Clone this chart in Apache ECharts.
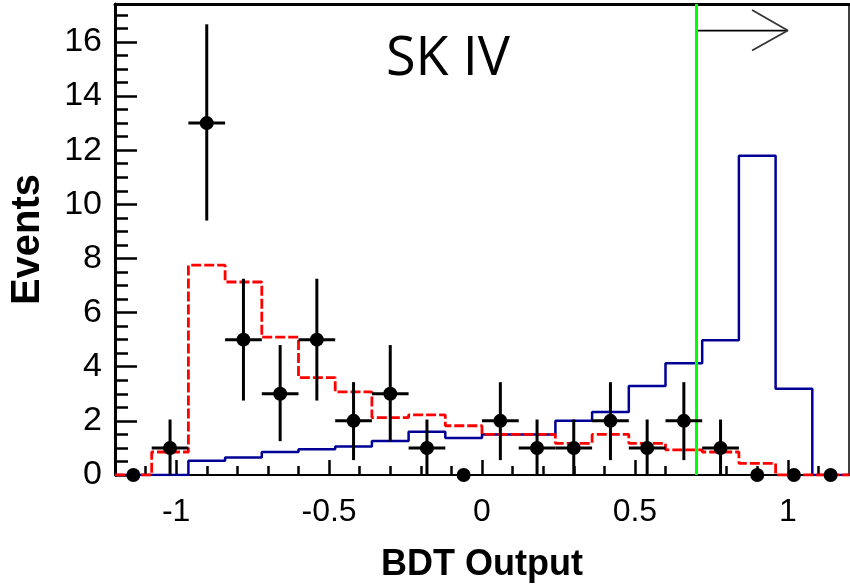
<!DOCTYPE html>
<html>
<head>
<meta charset="utf-8">
<script src="https://cdn.jsdelivr.net/npm/echarts@6/dist/echarts.min.js"></script>
<style>
html,body{margin:0;padding:0;background:#fff;}
#chart{width:850px;height:588px;}
</style>
</head>
<body>
<div id="chart"></div>
<script>
// ---- data ----
const binEdges = [-1.2,-1.08,-0.96,-0.84,-0.72,-0.6,-0.48,-0.36,-0.24,-0.12,0,0.12,0.24,0.36,0.48,0.6,0.72,0.84,0.96,1.08,1.2];
const dataCounts = [0,1,13,5,3,5,2,3,1,0,2,1,1,2,1,2,1,0,0,0];
const errLow  = [0,0,9.4,2.75,1.25,2.75,0.55,1.25,0,0,0.55,0,0,0.55,0,0.55,0,0,0,0];
const errHigh = [0,2.05,16.65,7.25,4.8,7.25,3.43,4.8,2.05,0,3.43,2.05,2.05,3.43,2.05,3.43,2.05,0,0,0];
const redHist  = [0,0.85,7.75,7.13,5.09,3.6,3.07,2.12,2.22,1.82,1.5,1.5,1.17,1.5,1.17,0.93,0.85,0.43,0,0];
const blueHist = [0,0,0.53,0.65,0.85,0.95,1.05,1.26,1.6,1.37,1.5,1.5,2.0,2.33,3.29,4.13,4.98,11.79,3.19,0];
const cutValue = 0.7;
const arrowShaft = [[0.7,16.42],[1.0,16.42]];
const arrowHead = [[0.883,17.18],[1.0,16.42],[0.883,15.68]];
const xTickLabels = [-1,-0.5,0,0.5,1];
const yTickLabels = [0,2,4,6,8,10,12,14,16];
const xMinorTicks = [-1.1,-0.9,-0.8,-0.7,-0.6,-0.4,-0.3,-0.2,-0.1,0.1,0.2,0.3,0.4,0.6,0.7,0.8,0.9,1.1];
const yMinorTicks = [0.5,1,1.5,2.5,3,3.5,4.5,5,5.5,6.5,7,7.5,8.5,9,9.5,10.5,11,11.5,12.5,13,13.5,14.5,15,15.5,16.5,17];

function histData(vals){
  const d = vals.map((v,i)=>[binEdges[i], v]);
  d.push([binEdges[binEdges.length-1], vals[vals.length-1]]);
  return d;
}
const pointData = dataCounts.map((v,i)=>{
  const c = (binEdges[i]+binEdges[i+1])/2;
  const hw = (binEdges[i+1]-binEdges[i])/2;
  return [c, v, errLow[i], errHigh[i], hw];
});

const XMIN=-1.2, XMAX=1.2, YMIN=0, YMAX=17.4;
const lab = {fontFamily:'Liberation Sans, Arial, sans-serif', color:'#000'};

const chart = echarts.init(document.getElementById('chart'), null, {renderer:'canvas'});
chart.setOption({
  animation:false,
  backgroundColor:'#fff',
  grid:{left:111, right:1, top:4, bottom:111, show:false},
  xAxis:[
    {type:'value', min:XMIN, max:XMAX, position:'bottom',
     name:'BDT Output', nameLocation:'middle', nameGap:72,
     nameTextStyle:Object.assign({fontSize:36, fontWeight:'bold'}, lab),
     axisLine:{show:true, onZero:false, lineStyle:{color:'#000', width:2}},
     axisTick:{show:true, inside:true, length:15, customValues:xTickLabels, lineStyle:{color:'#000', width:2.5}},
     axisLabel:{show:true, customValues:xTickLabels, margin:21, fontSize:32, fontFamily:lab.fontFamily, color:'#000',
       formatter:v=>String(v)},
     splitLine:{show:false}},
    {type:'value', min:XMIN, max:XMAX, position:'bottom',
     axisLine:{show:false, onZero:false},
     axisTick:{show:true, inside:true, length:9, customValues:xMinorTicks, lineStyle:{color:'#000', width:2.5}},
     axisLabel:{show:false}, splitLine:{show:false}},
    {type:'value', min:XMIN, max:XMAX, position:'top',
     axisLine:{show:true, onZero:false, lineStyle:{color:'#000', width:3}},
     axisTick:{show:false}, axisLabel:{show:false}, splitLine:{show:false}}
  ],
  yAxis:[
    {type:'value', min:YMIN, max:YMAX, position:'left',
     name:'Events', nameLocation:'middle', nameGap:67, nameRotate:90,
     nameTextStyle:Object.assign({fontSize:40, fontWeight:'bold'}, lab),
     axisLine:{show:true, onZero:false, lineStyle:{color:'#000', width:3}},
     axisTick:{show:true, inside:true, length:22, customValues:yTickLabels, lineStyle:{color:'#000', width:2.5}},
     axisLabel:{show:true, customValues:yTickLabels, margin:13, fontSize:34, fontFamily:lab.fontFamily, color:'#000'},
     splitLine:{show:false}},
    {type:'value', min:YMIN, max:YMAX, position:'left',
     axisLine:{show:false, onZero:false},
     axisTick:{show:true, inside:true, length:13, customValues:yMinorTicks, lineStyle:{color:'#000', width:2.5}},
     axisLabel:{show:false}, splitLine:{show:false}},
    {type:'value', min:YMIN, max:YMAX, position:'right',
     axisLine:{show:true, onZero:false, lineStyle:{color:'#000', width:1.5}},
     axisTick:{show:false}, axisLabel:{show:false}, splitLine:{show:false}}
  ],
  graphic:[
    {type:'text', left:386, top:33, z:100,
     style:{text:'SK IV', font:'54px "Open Sans", sans-serif', fill:'#000'}}
  ],
  series:[
    {type:'line', name:'blue', step:'end', data:histData(blueHist), symbol:'none',
     lineStyle:{color:'#000096', width:2.5}, z:2},
    {type:'line', name:'red', step:'end', data:histData(redHist), symbol:'none',
     lineStyle:{color:'#ff0000', width:2.8, type:[10,3]}, z:3,
     markLine:{silent:true, symbol:'none', label:{show:false},
       lineStyle:{color:'#00ff00', width:3, type:'solid'},
       data:[{xAxis:cutValue}]}},
    {type:'line', name:'arrowShaft', data:arrowShaft, symbol:'none',
     lineStyle:{color:'#000', width:1.7}, z:4},
    {type:'line', name:'arrowHead', data:arrowHead, symbol:'none',
     lineStyle:{color:'#333', width:1.8}, z:4},
    {type:'custom', name:'data', clip:false, z:10,
     encode:{x:0, y:1},
     data:pointData,
     renderItem:function(params, api){
       const x=api.value(0), y=api.value(1), lo=api.value(2), hi=api.value(3), hw=api.value(4);
       const c=api.coord([x,y]);
       const children=[];
       if(hi>lo){
         const a=api.coord([x,lo]), b=api.coord([x,hi]);
         const l=api.coord([x-hw,y]), r=api.coord([x+hw,y]);
         children.push({type:'line', shape:{x1:a[0],y1:a[1],x2:b[0],y2:b[1]}, style:{stroke:'#000', lineWidth:3}});
         children.push({type:'line', shape:{x1:l[0],y1:l[1],x2:r[0],y2:r[1]}, style:{stroke:'#000', lineWidth:3}});
       }
       children.push({type:'circle', shape:{cx:c[0],cy:c[1],r:7}, style:{fill:'#000'}});
       return {type:'group', children:children};
     }}
  ]
});
</script>
</body>
</html>
